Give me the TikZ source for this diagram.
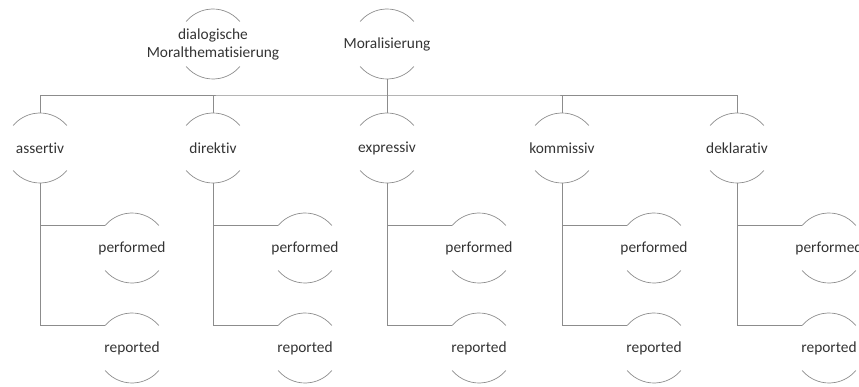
\documentclass[tikz,border=0pt]{standalone}
\usepackage{fontspec}
\setmainfont{Carlito}[Ligatures=NoCommon]
\definecolor{linegray}{HTML}{8C8C8C}
\definecolor{txtgray}{HTML}{333333}
\begin{document}
\begin{tikzpicture}[x=1pt,y=1pt,
  lbl/.style={inner sep=0pt, text=txtgray, font=\fontsize{15.4}{18}\selectfont, align=center},
  conn/.style={draw=linegray, line width=0.75pt},
  arcline/.style={draw=linegray, line width=0.7pt}]
\useasboundingbox (0,0) rectangle (859,386);
\coordinate (busy) at (0,291);
% top level
\node[lbl] (dia) at (213,342) {dialogische\\Moralthematisierung};
\node[lbl] (mor) at (387,342) {Moralisierung};
\foreach \n in {dia,mor}{
  \draw[arcline] ([shift={(40:35)}]\n.center) arc (40:140:35);
  \draw[arcline] ([shift={(220:35)}]\n.center) arc (220:320:35);
}
% columns
\foreach \n/\t/\cx in {as/assertiv/40,di/direktiv/213,ex/expressiv/387,ko/kommissiv/562,de/deklarativ/737}{
  \node[lbl] (\n) at (\cx,238) {\t};
  \node[lbl] (\n-p) at ({\cx+92},138) {performed};
  \node[lbl] (\n-r) at ({\cx+92},38) {reported};
  \foreach \m in {\n,\n-p,\n-r}{
    \draw[arcline] ([shift={(40:35)}]\m.center) arc (40:140:35);
    \draw[arcline] ([shift={(220:35)}]\m.center) arc (220:320:35);
  }
  \draw[conn] ([yshift=-35]\n.center) |- ([shift={(140:35)}]\n-p.center);
  \draw[conn] ([yshift=-35]\n.center) |- ([shift={(140:35)}]\n-r.center);
}
% bus
\draw[conn] ([yshift=35]as.center) |- (mor.center |- busy) -| ([yshift=35]de.center);
\draw[conn] ([yshift=35]di.center) -- (di.center |- busy);
\draw[conn] ([yshift=35]ko.center) -- (ko.center |- busy);
\draw[conn] ([yshift=-35]mor.center) -- ([yshift=35]ex.center);
\end{tikzpicture}
\end{document}
